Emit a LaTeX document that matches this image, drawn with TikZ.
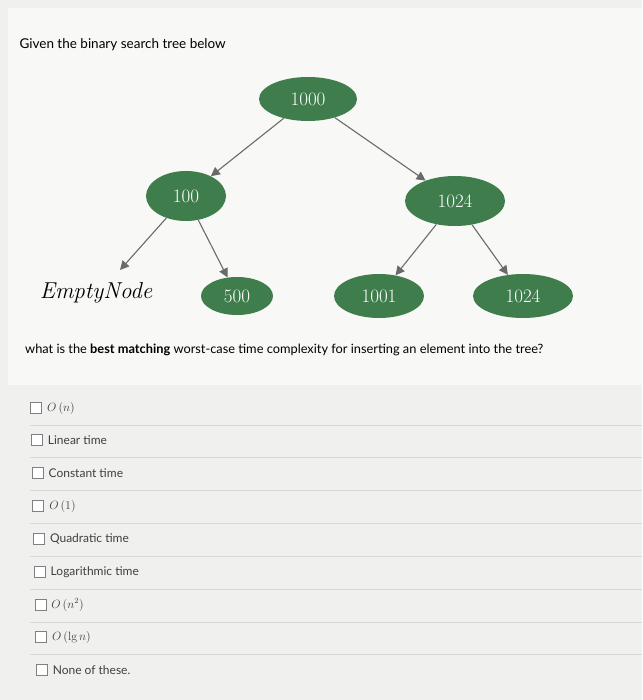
\documentclass[tikz,border=0pt]{standalone}
\usepackage{fontspec}
\setmainfont{Latin Modern Roman}
\newfontfamily\ui{Lato}
\usetikzlibrary{shapes.geometric,arrows.meta}
\definecolor{bg}{HTML}{F0F0EE}
\definecolor{gn}{HTML}{3F7D4C}
\definecolor{ln}{HTML}{6A6A6A}
\tikzset{
  bn/.style={ellipse,fill=gn,text=white,font=\fontsize{19}{19}\selectfont,minimum width=#1,minimum height=44pt,inner sep=0pt},
  ar/.style={draw=ln,line width=1.1pt,-{Triangle[length=9pt,width=9pt]}},
  opt/.style={anchor=west,font=\ui\fontsize{12}{14}\selectfont,text=black!75},
  sep/.style={draw=black!15,line width=0.8pt}
}
\begin{document}
\begin{tikzpicture}[x=1pt,y=-1pt]
\fill[bg] (0,0) rectangle (642,700);
\fill[white!50!bg] (8,8) rectangle (642,385);
\useasboundingbox (0,0) rectangle (642,700);
\node[anchor=west,font=\ui\fontsize{13.5}{15}\selectfont] (t) at (16,45) {Given the binary search tree below};
\node[bn=98pt] (a) at (308,99) {1000};
\node[bn=80pt,minimum height=50pt] (b) at (186,196) {100};
\node[bn=100pt,minimum height=50pt] (c) at (455,201) {1024};
\node[font=\itshape\fontsize{23}{23}\selectfont] (d) at (96,293) {EmptyNode};
\node[bn=72pt,minimum height=38pt] (e) at (237,296) {500};
\node[bn=90pt] (f) at (379,296) {1001};
\node[bn=100pt] (g) at (523,296) {1024};
\draw[ar] (a) -- (b);
\draw[ar] (a) -- (c);
\draw[ar] (b) -- (120,270);
\draw[ar] (b) -- (e);
\draw[ar] (c) -- (f);
\draw[ar] (c) -- (g);
\node[anchor=west,font=\ui\fontsize{12.8}{15}\selectfont,inner sep=0pt] (q) at (25,350) {what is the \textbf{best matching} worst-case time complexity for inserting an element into the tree?};
\foreach \y/\t [count=\i] in {408/{$O\,(n)$},440/{Linear time},473/{Constant time},506/{$O\,(1)$},539/{Quadratic time},572/{Logarithmic time},605/{$O\,(n^2)$},637/{$O\,(\lg n)$},670/{None of these.}}{
  \draw[black!50,line width=0.7pt,fill=white] (30+\i*0.7,\y-5.5) rectangle ++(11,11);
  \node[opt] (o\i) at (43+\i*0.7,\y) {\t};
  \ifnum\i<9 \draw[sep] (30,\y+17) -- (642,\y+17);\fi
}
\end{tikzpicture}
\end{document}
